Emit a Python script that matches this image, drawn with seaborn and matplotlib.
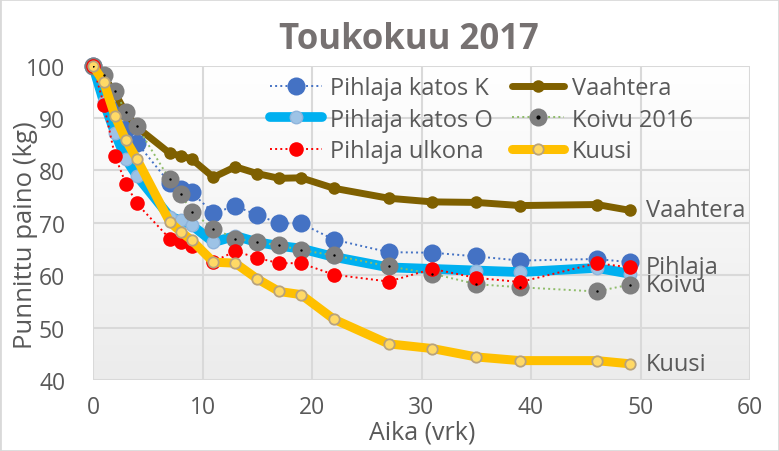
import numpy as np
import pandas as pd
import matplotlib
matplotlib.use('Agg')
import matplotlib.pyplot as plt
from matplotlib.colors import LinearSegmentedColormap
from matplotlib.lines import Line2D
from matplotlib.patches import Rectangle
import seaborn as sns

days = [0, 1, 2, 3, 4, 7, 8, 9, 11, 13, 15, 17, 19, 22, 27, 31, 35, 39, 46, 49]
pihlaja_k = [100, 96, 91.5, 88, 85.3, 77.6, 76.4, 75.8, 71.9, 73.2, 71.5, 69.9, 69.9, 66.8, 64.4, 64.3, 63.6, 62.8, 63.1, 62.5]
pihlaja_o = [100, 93, 87.2, 82.2, 79, 71.2, 70.5, 69.6, 66.3, 67.5, 66.3, 65.6, 65.1, 63.5, 61.5, 61.2, 60.9, 60.6, 61.4, 60.3]
pihlaja_ulkona = [100, 92.5, 82.8, 77.5, 73.7, 67, 66.3, 65.5, 62.6, 64.6, 63.3, 62.3, 62.3, 60.1, 58.8, 61.2, 59.5, 58.7, 62.3, 61.5]
vaahtera = [100, 97.8, 94.8, 91, 88.3, 83.3, 82.8, 82.2, 78.7, 80.7, 79.4, 78.5, 78.6, 76.6, 74.7, 74.0, 73.9, 73.3, 73.5, 72.4]
koivu = [100, 98.3, 95.2, 91.2, 88.5, 78.3, 75.6, 72.1, 68.9, 67, 66.3, 65.7, 64.8, 63.8, 61.7, 60.3, 58.3, 57.7, 56.9, 58.2]
kuusi = [100, 96.8, 90.4, 85.8, 82.2, 70.2, 68.3, 66.7, 62.5, 62.3, 59.3, 56.9, 56.3, 51.6, 46.9, 46.0, 44.4, 43.7, 43.7, 43.1]

df = pd.DataFrame({'Aika': days, 'K': pihlaja_k, 'O': pihlaja_o, 'U': pihlaja_ulkona,
                   'V': vaahtera, 'Koivu': koivu, 'Kuusi': kuusi})

sns.set_style('white')
plt.rcParams['font.family'] = ['Open Sans', 'DejaVu Sans']
txt = '#595959'

fig = plt.figure(figsize=(7.79, 4.52), dpi=100)
ax = fig.add_axes([93/779, 1-381/452, (750-93)/779, (381-66.7)/452])

# plot area background: white fading to light grey
cmap = LinearSegmentedColormap.from_list('bg', ['#ffffff', '#ececec'])
ax.imshow(np.linspace(0, 1, 100).reshape(-1, 1), cmap=cmap, extent=[0, 60, 40, 100],
          aspect='auto', origin='upper', zorder=0)

sns.lineplot(data=df, x='Aika', y='K', ax=ax, color='#4472C4', lw=1.4, ls=':', marker='o',
             markersize=13, markeredgewidth=0, label='Pihlaja katos K', clip_on=False)
sns.lineplot(data=df, x='Aika', y='O', ax=ax, color='#00B0F0', lw=7, marker='o',
             markersize=9, markerfacecolor='#9DC3E6', markeredgecolor='#8FB4DC',
             markeredgewidth=1, label='Pihlaja katos O', clip_on=False)
sns.lineplot(data=df, x='Aika', y='V', ax=ax, color='#7F6000', lw=5, marker='o',
             markersize=9, markeredgewidth=0, label='Vaahtera', clip_on=False)
sns.lineplot(data=df, x='Aika', y='Koivu', ax=ax, color='#8FBC6A', lw=1.4, ls=':', marker='o',
             markersize=13, markerfacecolor='#7F7F7F', markeredgecolor='#7F7F7F',
             markeredgewidth=0, label='Koivu 2016', clip_on=False)
sns.scatterplot(data=df, x='Aika', y='Koivu', ax=ax, color='black', s=3, linewidth=0,
                legend=False, zorder=5)
sns.lineplot(data=df, x='Aika', y='U', ax=ax, color='#FF0000', lw=1.4, ls=':', marker='o',
             markersize=10.5, markeredgewidth=0, label='Pihlaja ulkona', clip_on=False)
sns.lineplot(data=df, x='Aika', y='Kuusi', ax=ax, color='#FFC000', lw=6.5, marker='o',
             markersize=7.5, markerfacecolor='#FFD966', markeredgecolor='#B8A27C',
             markeredgewidth=1.3, label='Kuusi', clip_on=False)

ax.set_xlim(0, 60)
ax.set_ylim(40, 100)
ax.set_xticks(range(0, 61, 10))
ax.set_yticks(range(40, 101, 10))
ax.grid(True, color='#D9D9D9', lw=1.5)
ax.set_axisbelow(True)
for s in ax.spines.values():
    s.set_visible(False)
ax.tick_params(axis='both', length=0, labelsize=16.5, colors=txt)
ax.tick_params(axis='x', pad=11)
ax.tick_params(axis='y', pad=20)
ax.set_xlabel('')
ax.set_ylabel('')

fig.text(422/779, 1-433/452, 'Aika (vrk)', ha='center', va='center', fontsize=18, color=txt)
fig.text(26/779, 1-235/452, 'Punnittu paino (kg)', ha='center', va='center', rotation=90,
         fontsize=18.5, color=txt)
fig.text(409/779, 1-40/452, 'Toukokuu 2017', ha='center', va='center', fontsize=25,
         fontweight='bold', color='#767171')

# end labels
end_labels = [('Vaahtera', vaahtera), ('Pihlaja', pihlaja_ulkona), ('Koivu', koivu), ('Kuusi', kuusi)]
for name, vals in end_labels:
    ax.annotate(name, xy=(days[-1], vals[-1]), xytext=(12, 0), textcoords='offset points',
                va='center', ha='left', fontsize=17, color=txt)

handles, labels = ax.get_legend_handles_labels()
hmap = dict(zip(labels, handles))
dot = Line2D([], [], marker='o', ms=2, color='black', ls='none')
order = ['Pihlaja katos K', 'Pihlaja katos O', 'Pihlaja ulkona', 'Vaahtera', 'Koivu 2016', 'Kuusi']
hs = [(hmap[k], dot) if k == 'Koivu 2016' else hmap[k] for k in order]
ax.legend(hs, order, ncol=2, frameon=False, fontsize=17, labelcolor=txt,
          loc='upper left', bbox_to_anchor=(270/779, 1-77/452), bbox_transform=fig.transFigure,
          borderpad=0, borderaxespad=0, handlelength=2.2, handletextpad=0.35,
          columnspacing=0.8, labelspacing=0.32)

fig.patches.append(Rectangle((0, 0), 1, 1, transform=fig.transFigure, fill=False,
                             edgecolor='#D9D9D9', lw=2))
fig.savefig('out.png', dpi=100)
